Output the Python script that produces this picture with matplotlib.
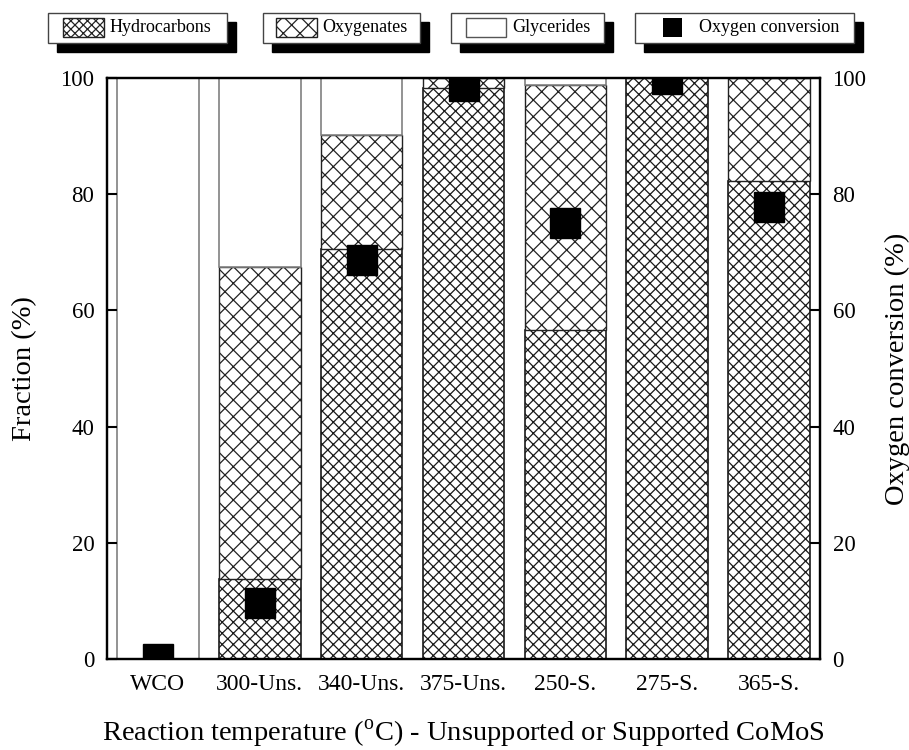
import numpy as np
import matplotlib
matplotlib.use('Agg')
import matplotlib.pyplot as plt
from matplotlib.patches import Rectangle

plt.rcParams['font.family'] = ['Liberation Serif', 'DejaVu Serif']
plt.rcParams['mathtext.fontset'] = 'custom'
plt.rcParams['mathtext.rm'] = 'Liberation Serif'
plt.rcParams['hatch.linewidth'] = 0.9

# data
samples = ['WCO', '300-Uns.', '340-Uns.', '375-Uns.', '250-S.', '275-S.', '365-S.']
hydrocarbons = [0.0, 13.8, 70.6, 98.3, 56.6, 100.0, 82.3]
oxygenates = [0.0, 53.7, 19.6, 1.7, 42.2, 0.0, 17.7]
glycerides = [100.0, 32.5, 9.8, 0.0, 1.2, 0.0, 0.0]
oxygen_conv = [0.0, 9.7, 68.6, 98.6, 75.1, 99.9, 77.8]
yticks = [0, 20, 40, 60, 80, 100]

W, H = 909, 750
fig = plt.figure(figsize=(W/100, H/100), dpi=100)
ax = fig.add_axes([107/W, 1-659/H, (820-107)/W, (659-78)/H])

x = np.arange(len(samples))
bw = 0.8
hc = np.array(hydrocarbons)
ox = np.array(oxygenates)
gl = np.array(glycerides)

ax.bar(x, hc, bw, color='white', edgecolor='#1a1a1a', hatch='xxx', linewidth=1.2)
ax.bar(x, ox, bw, bottom=hc, color='white', edgecolor='#222222', hatch='xx', linewidth=1.0)
ax.bar(x, gl, bw, bottom=hc+ox, color='white', edgecolor='#808080', linewidth=1.2)

ax.set_xlim(-0.5, len(samples)-0.5)
ax.set_ylim(0, 100)
ax.set_yticks(yticks)
ax.set_xticks(x)
ax.set_xticklabels(samples, fontsize=17)
ax.tick_params(axis='x', length=0, pad=11)
ax.tick_params(axis='y', direction='in', length=7, width=1.5, labelsize=16.5, pad=9)
for s in ax.spines.values():
    s.set_linewidth(1.6)

ax.set_ylabel('Fraction (%)', fontsize=20.5, labelpad=17)
ax.set_xlabel(r'Reaction temperature ($^{\mathrm{o}}$C) - Unsupported or Supported CoMoS',
              fontsize=20.5, labelpad=16)

ax2 = ax.twinx()
ax2.set_ylim(0, 100)
ax2.set_yticks(yticks)
ax2.tick_params(axis='y', direction='in', length=7, width=1.5, labelsize=16.5, pad=9)
ax2.plot(x, oxygen_conv, 's', color='black', markersize=22, clip_on=True)
ax2.set_ylabel('Oxygen conversion (%)', fontsize=20.5, labelpad=13)
for s in ax2.spines.values():
    s.set_linewidth(1.6)


# legend: four separate boxes with drop shadows
def fx(px):
    return px / W


def fy(py):
    return 1 - py / H


def legend_box(x0, x1, label, tx, sample):
    y0, y1 = 13, 43
    sh = Rectangle((fx(x0+9), fy(y1+9)), fx(x1-x0), (y1-y0)/H, transform=fig.transFigure,
                   facecolor='black', edgecolor='black', zorder=5)
    box = Rectangle((fx(x0), fy(y1)), fx(x1-x0), (y1-y0)/H, transform=fig.transFigure,
                    facecolor='white', edgecolor='#444444', linewidth=1.0, zorder=6)
    fig.patches.extend([sh, box])
    sx0, sx1, sy0, sy1, kw = sample
    fig.patches.append(Rectangle((fx(sx0), fy(sy1)), fx(sx1-sx0), (sy1-sy0)/H,
                                 transform=fig.transFigure, zorder=7, **kw))
    fig.text(fx(tx), fy(28), label, fontsize=13, va='center', ha='left', zorder=8)


legend_box(48, 227, 'Hydrocarbons', 110,
           (63, 104, 18, 37, dict(facecolor='white', edgecolor='#222222', hatch='xxxx', linewidth=1.0)))
legend_box(263, 420, 'Oxygenates', 322,
           (276, 317, 18, 37, dict(facecolor='white', edgecolor='#222222', hatch='xx', linewidth=1.0)))
legend_box(451, 604, 'Glycerides', 512,
           (466, 506, 18, 37, dict(facecolor='white', edgecolor='#555555', linewidth=1.0)))
legend_box(635, 854, 'Oxygen conversion', 699,
           (663, 682, 18, 37, dict(facecolor='black', edgecolor='black', linewidth=0)))

fig.savefig('out.png', dpi=100)
